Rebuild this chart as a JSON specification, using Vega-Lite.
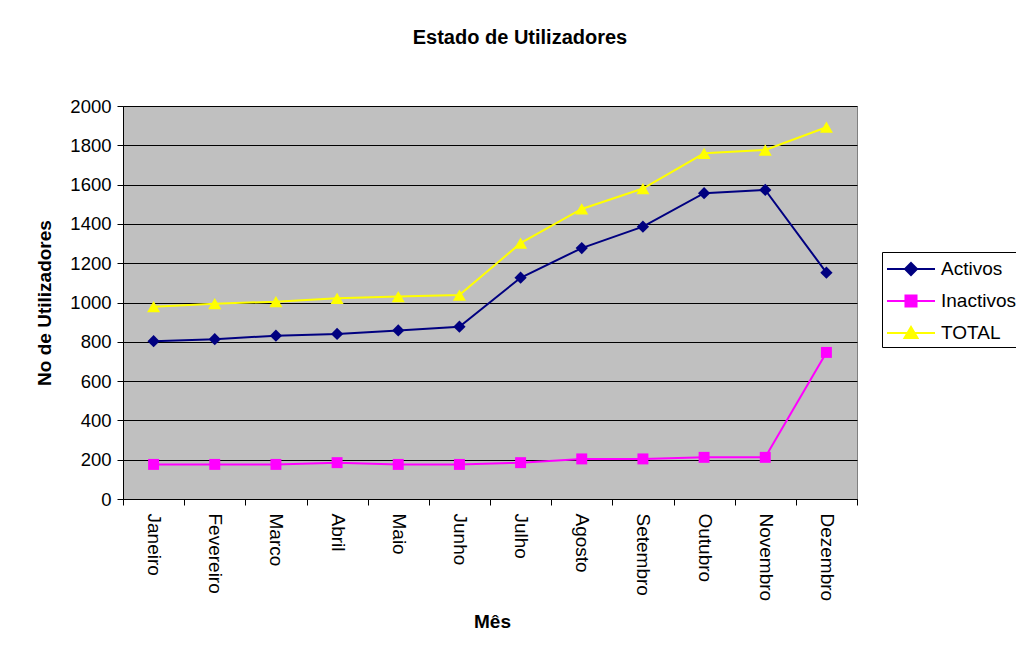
{
  "$schema": "https://vega.github.io/schema/vega-lite/v6.json",
  "width": 734,
  "height": 393,
  "autosize": {"type": "none"},
  "padding": {"left": 123, "top": 106, "right": 159, "bottom": 154},
  "background": "white",
  "config": {
    "font": "Liberation Sans",
    "view": {"fill": "#C0C0C0", "stroke": "#808080", "strokeWidth": 1}
  },
  "title": {
    "text": "Estado de Utilizadores",
    "font": "Liberation Sans",
    "fontSize": 20,
    "fontWeight": "bold",
    "color": "black",
    "anchor": "middle",
    "dx": 30,
    "offset": 49
  },
  "data": {
    "values": [
      {"mes": "Janeiro", "serie": "Activos", "valor": 803},
      {"mes": "Fevereiro", "serie": "Activos", "valor": 813},
      {"mes": "Marco", "serie": "Activos", "valor": 831},
      {"mes": "Abril", "serie": "Activos", "valor": 840},
      {"mes": "Maio", "serie": "Activos", "valor": 858},
      {"mes": "Junho", "serie": "Activos", "valor": 877},
      {"mes": "Julho", "serie": "Activos", "valor": 1126},
      {"mes": "Agosto", "serie": "Activos", "valor": 1277},
      {"mes": "Setembro", "serie": "Activos", "valor": 1386},
      {"mes": "Outubro", "serie": "Activos", "valor": 1556},
      {"mes": "Novembro", "serie": "Activos", "valor": 1573},
      {"mes": "Dezembro", "serie": "Activos", "valor": 1152},
      {"mes": "Janeiro", "serie": "Inactivos", "valor": 176},
      {"mes": "Fevereiro", "serie": "Inactivos", "valor": 176},
      {"mes": "Marco", "serie": "Inactivos", "valor": 176},
      {"mes": "Abril", "serie": "Inactivos", "valor": 185},
      {"mes": "Maio", "serie": "Inactivos", "valor": 176},
      {"mes": "Junho", "serie": "Inactivos", "valor": 176},
      {"mes": "Julho", "serie": "Inactivos", "valor": 185},
      {"mes": "Agosto", "serie": "Inactivos", "valor": 204},
      {"mes": "Setembro", "serie": "Inactivos", "valor": 204},
      {"mes": "Outubro", "serie": "Inactivos", "valor": 212},
      {"mes": "Novembro", "serie": "Inactivos", "valor": 212},
      {"mes": "Dezembro", "serie": "Inactivos", "valor": 746},
      {"mes": "Janeiro", "serie": "TOTAL", "valor": 979},
      {"mes": "Fevereiro", "serie": "TOTAL", "valor": 994},
      {"mes": "Marco", "serie": "TOTAL", "valor": 1004},
      {"mes": "Abril", "serie": "TOTAL", "valor": 1021},
      {"mes": "Maio", "serie": "TOTAL", "valor": 1030},
      {"mes": "Junho", "serie": "TOTAL", "valor": 1038},
      {"mes": "Julho", "serie": "TOTAL", "valor": 1302},
      {"mes": "Agosto", "serie": "TOTAL", "valor": 1476},
      {"mes": "Setembro", "serie": "TOTAL", "valor": 1580},
      {"mes": "Outubro", "serie": "TOTAL", "valor": 1759},
      {"mes": "Novembro", "serie": "TOTAL", "valor": 1776},
      {"mes": "Dezembro", "serie": "TOTAL", "valor": 1892}
    ]
  },
  "encoding": {
    "x": {
      "field": "mes",
      "type": "ordinal",
      "sort": ["Janeiro", "Fevereiro", "Marco", "Abril", "Maio", "Junho", "Julho", "Agosto", "Setembro", "Outubro", "Novembro", "Dezembro"],
      "scale": {"type": "band", "paddingInner": 0, "paddingOuter": 0},
      "axis": {
        "title": "Mês",
        "labelAngle": 90,
        "labelAlign": "left",
        "labelBaseline": "middle",
        "tickBand": "extent",
        "grid": false,
        "domainColor": "black",
        "tickColor": "black",
        "tickSize": 6,
        "labelPadding": 8,
        "labelFontSize": 19,
        "labelColor": "black",
        "titleFontSize": 19,
        "titleFontWeight": "bold",
        "titleColor": "black",
        "titlePadding": 12,
        "titleX": 369
      }
    },
    "y": {
      "field": "valor",
      "type": "quantitative",
      "scale": {"domain": [0, 2000], "nice": false},
      "axis": {
        "title": "No de Utilizadores",
        "format": "d",
        "values": [0, 200, 400, 600, 800, 1000, 1200, 1400, 1600, 1800, 2000],
        "gridColor": "black",
        "gridOpacity": 1,
        "gridWidth": 1,
        "domainColor": "black",
        "tickColor": "black",
        "tickSize": 6,
        "labelPadding": 6,
        "labelFontSize": 18.5,
        "labelColor": "black",
        "titleFontSize": 19,
        "titleFontWeight": "bold",
        "titleColor": "black",
        "titlePadding": 15
      }
    },
    "color": {
      "field": "serie",
      "type": "nominal",
      "scale": {"domain": ["Activos", "Inactivos", "TOTAL"], "range": ["#000080", "#FF00FF", "#FFFF00"]},
      "legend": {
        "title": null,
        "orient": "none",
        "legendX": 759,
        "legendY": 146,
        "fillColor": "white",
        "strokeColor": "black",
        "padding": 4,
        "labelFontSize": 19,
        "labelColor": "black",
        "symbolSize": 576,
        "symbolStrokeWidth": 2,
        "labelOffset": 29,
        "rowPadding": 9,
        "encode": {
          "symbols": {
            "update": {
              "shape": {"signal": "datum.value === 'Activos' ? 'M-1,0H3M1,-0.5L1.5,0L1,0.5L0.5,0Z' : datum.value === 'Inactivos' ? 'M-1,0H3M0.54,-0.46H1.46V0.46H0.54Z' : 'M-1,0H3M1,-0.5L1.54,0.42H0.46Z'"},
              "size": {"value": 576},
              "fill": {"signal": "scale('color', datum.value)"},
              "stroke": {"signal": "scale('color', datum.value)"},
              "strokeWidth": {"value": 2},
              "opacity": {"value": 1}
            }
          }
        }
      }
    }
  },
  "layer": [
    {"mark": {"type": "line", "strokeWidth": 2}},
    {
      "transform": [{"filter": "datum.serie === 'Inactivos'"}],
      "mark": {"type": "point", "filled": true, "opacity": 1, "shape": "square", "size": 120}
    },
    {
      "transform": [{"filter": "datum.serie === 'TOTAL'"}],
      "mark": {"type": "point", "filled": true, "opacity": 1, "shape": "triangle-up", "size": 170}
    },
    {
      "transform": [{"filter": "datum.serie === 'Activos'"}],
      "mark": {"type": "point", "filled": true, "opacity": 1, "shape": "diamond", "size": 150}
    }
  ]
}
